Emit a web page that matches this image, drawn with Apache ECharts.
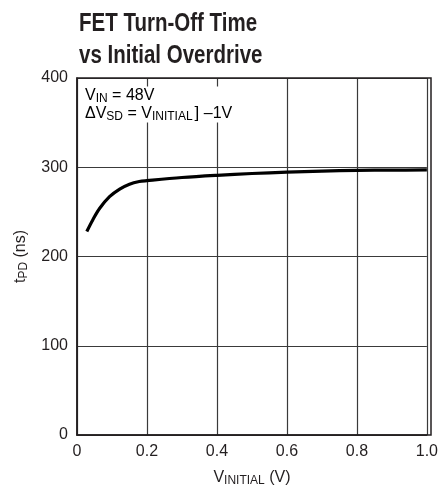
<!DOCTYPE html>
<html>
<head>
<meta charset="utf-8">
<script src="https://cdn.jsdelivr.net/npm/echarts@6/dist/echarts.min.js"></script>
<style>
html,body{margin:0;padding:0;background:#fff;}
#chart{width:441px;height:492px;}
</style>
</head>
<body>
<div id="chart"></div>
<script>
var vInitial = [0.028, 0.045, 0.065, 0.093, 0.122, 0.150, 0.178, 0.200, 0.300, 0.400, 0.500, 0.600, 0.700, 0.800, 0.900, 1.000];
var tpd      = [228,   241,   254,   267,   275.5, 281,   284,   285,   288.5, 291,   293,   294.5, 295.7, 296.5, 296.8, 297];
var xTicks = ['0', '0.2', '0.4', '0.6', '0.8', '1.0'];
var yTicks = ['0', '100', '200', '300', '400'];
var titleLines = ['FET Turn-Off Time', 'vs Initial Overdrive'];

var FONT = '"Liberation Sans", Arial, sans-serif';
var chart = echarts.init(document.getElementById('chart'));
var data = vInitial.map(function (x, i) { return [x, tpd[i]]; });

chart.setOption({
  animation: false,
  backgroundColor: '#fff',
  grid: { left: 77, right: 10, top: 78, bottom: 57 },
  xAxis: {
    type: 'value',
    min: 0, max: 1, interval: 0.2,
    name: '{n|V}{s|INITIAL}{n| (V)}',
    nameLocation: 'middle',
    nameGap: 33,
    nameTextStyle: {
      rich: {
        n: { fontFamily: FONT, fontSize: 16, color: '#231f20' },
        s: { fontFamily: FONT, fontSize: 12, color: '#231f20', padding: [7, 0, 0, 0] }
      }
    },
    axisLine: { show: true, lineStyle: { color: '#231f20', width: 1.5 } },
    axisTick: { show: false },
    axisLabel: {
      fontFamily: FONT, fontSize: 16, color: '#231f20', margin: 9,
      formatter: function (v) { return xTicks[Math.round(v / 0.2)]; }
    },
    splitLine: { show: true, lineStyle: { color: '#3a3a3a', width: 1.2 } }
  },
  yAxis: {
    type: 'value',
    min: 0, max: 400, interval: 100,
    name: '{n|t}{s|PD}{n| (ns)}',
    nameLocation: 'middle',
    nameGap: 47,
    nameTextStyle: {
      rich: {
        n: { fontFamily: FONT, fontSize: 16, color: '#231f20' },
        s: { fontFamily: FONT, fontSize: 12, color: '#231f20', padding: [7, 0, 0, 0] }
      }
    },
    axisLine: { show: true, lineStyle: { color: '#231f20', width: 1.5 } },
    axisTick: { show: false },
    axisLabel: {
      fontFamily: FONT, fontSize: 16, color: '#231f20', margin: 9,
      formatter: function (v) { return yTicks[Math.round(v / 100)]; }
    },
    splitLine: { show: true, lineStyle: { color: '#3a3a3a', width: 1.2 } }
  },
  graphic: [
    {
      type: 'text',
      x: 79, y: 8,
      scaleX: 0.82,
      style: {
        text: titleLines.join('\n'),
        fontFamily: FONT,
        fontWeight: 'bold',
        fontSize: 25,
        lineHeight: 32,
        fill: '#231f20',
        textAlign: 'left',
        textVerticalAlign: 'top'
      },
      z: 20
    },
    {
      type: 'rect',
      shape: { x: 77, y: 78, width: 354, height: 357 },
      style: { fill: 'none', stroke: '#231f20', lineWidth: 1.5 },
      silent: true, z: 10
    },
    {
      type: 'text',
      left: 85, top: 86,
      style: {
        text: '{n|V}{s|IN}{n| = 48V}\n{n|ΔV}{s|SD}{n| = V}{s|INITIAL}{b|]}{n| –1V}',
        backgroundColor: '#fff',
        padding: [0, 2, 0, 0],
        rich: {
          n: { fontFamily: FONT, fontSize: 16, color: '#231f20', lineHeight: 18 },
          s: { fontFamily: FONT, fontSize: 12, color: '#231f20', padding: [7, 0, 0, 0], lineHeight: 18 },
          b: { fontFamily: FONT, fontSize: 17, color: '#231f20', lineHeight: 18, padding: [0, 0, 0, 2] }
        }
      },
      z: 20
    }
  ],
  series: [{
    type: 'line',
    data: data,
    smooth: 0.35,
    symbol: 'none',
    lineStyle: { color: '#000', width: 3.2 },
    z: 5
  }]
});
</script>
</body>
</html>
